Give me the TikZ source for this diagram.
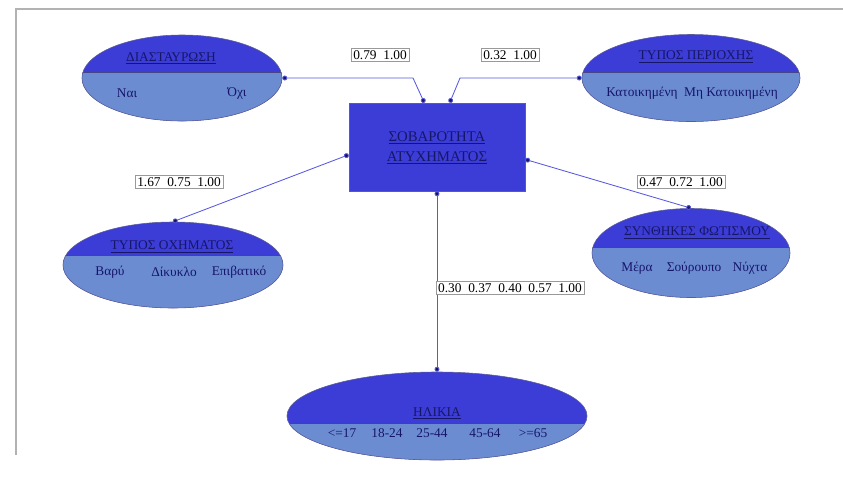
\documentclass[tikz,border=0pt]{standalone}
\usepackage{fontspec}
\setmainfont{Liberation Serif}
\usetikzlibrary{arrows.meta,shapes.geometric}
\definecolor{hiblue}{RGB}{60,60,215}
\definecolor{loblue}{RGB}{108,140,210}
\definecolor{navy}{RGB}{22,22,105}
\definecolor{linkblue}{RGB}{88,88,222}
\begin{document}
\begin{tikzpicture}[x=0.025cm,y=-0.025cm,
  divide/.code={\def\splitoff{#1}},
  var/.style={ellipse,inner sep=0pt,draw=navy!70,fill=hiblue,
    path picture={\fill[loblue] ([yshift=\splitoff]path picture bounding box.west) rectangle (path picture bounding box.south east);
      \draw[navy!80] ([yshift=\splitoff]path picture bounding box.west) -- ([yshift=\splitoff]path picture bounding box.east);}},
  title/.style={text=navy,font=\fontsize{9.5}{11}\selectfont},
  state/.style={text=navy,font=\fontsize{9.5}{11}\selectfont},
  prob/.style={draw=gray!80,fill=white,inner sep=1.5pt,font=\fontsize{9.5}{11}\selectfont},
  link/.style={linkblue,line width=0.6pt,{Circle[length=3.5pt,fill=navy]}-{Circle[length=3.5pt,fill=navy]}}]
  \useasboundingbox (0,0) rectangle (843,489);
  \draw[gray!60,line width=0.8pt] (16,455) -- (16,9) -- (843,9);

  \node[var,divide=4.3pt,minimum width=5cm,minimum height=2.15cm] (cross) at (182,78) {};
  \node[title] (crosst) at (171,58) {\underline{ΔΙΑΣΤΑΥΡΩΣΗ}};
  \node[state] (yes) at (127,93) {Ναι};
  \node[state] (no) at (237,93) {Όχι};

  \node[var,divide=4.3pt,minimum width=5.45cm,minimum height=2.175cm] (area) at (691,78) {};
  \node[title] (areat) at (696,57) {\underline{ΤΥΠΟΣ ΠΕΡΙΟΧΗΣ}};
  \node[state] (areas) at (692,93) {Κατοικημένη\ \ Μη Κατοικημένη};

  \node[draw=navy!70,fill=hiblue,minimum width=4.4cm,minimum height=2.2cm] (sev) at (437,147) {};
  \node[title,font=\fontsize{10.5}{12}\selectfont] (sev1) at (437,138) {\underline{ΣΟΒΑΡΟΤΗΤΑ}};
  \node[title,font=\fontsize{10.5}{12}\selectfont] (sev2) at (437,158) {\underline{ΑΤΥΧΗΜΑΤΟΣ}};

  \node[var,divide=7.1pt,minimum width=5.5cm,minimum height=2.15cm] (veh) at (173,265) {};
  \node[title] (veht) at (172,247) {\underline{ΤΥΠΟΣ ΟΧΗΜΑΤΟΣ}};
  \node[state] (heavy) at (110,272) {Βαρύ};
  \node[state] (bike) at (174,272) {Δίκυκλο};
  \node[state] (car) at (239,272) {Επιβατικό};

  \node[var,divide=4.3pt,minimum width=4.95cm,minimum height=2.225cm] (light) at (691,253) {};
  \node[title] (lightt) at (697,233) {\underline{ΣΥΝΘΗΚΕΣ ΦΩΤΙΣΜΟΥ}};
  \node[state] (day) at (637,268) {Μέρα};
  \node[state] (dusk) at (694,268) {Σούρουπο};
  \node[state] (night) at (750,268) {Νύχτα};

  \node[var,divide=-5pt,minimum width=7.5cm,minimum height=2.2cm] (age) at (437,416) {};
  \node[title] (aget) at (437,413) {\underline{ΗΛΙΚΙΑ}};
  \node[state] (a1) at (342,433) {<=17};
  \node[state] (a2) at (387,433) {18-24};
  \node[state] (a3) at (432,433) {25-44};
  \node[state] (a4) at (485,433) {45-64};
  \node[state] (a5) at (533,433) {>=65};

  \coordinate (k1) at (413,78);
  \coordinate (k2) at (460,78);
  \draw[link] (cross.east) -- (k1) -- (sev.106);
  \draw[link] (area.west) -- (k2) -- (sev.74);
  \draw[link] (sev.185) -- (veh.north);
  \draw[link] (sev.352) -- (light.north);
  \draw[link] (sev.south) -- (age.north);

  \node[prob] (p1) at (380,55) {0.79\ \ 1.00};
  \node[prob] (p2) at (510,55) {0.32\ \ 1.00};
  \node[prob] (p3) at (179,182) {1.67\ \ 0.75\ \ 1.00};
  \node[prob] (p4) at (681,182) {0.47\ \ 0.72\ \ 1.00};
  \node[prob] (p5) at (510,288) {0.30\ \ 0.37\ \ 0.40\ \ 0.57\ \ 1.00};
\end{tikzpicture}
\end{document}
